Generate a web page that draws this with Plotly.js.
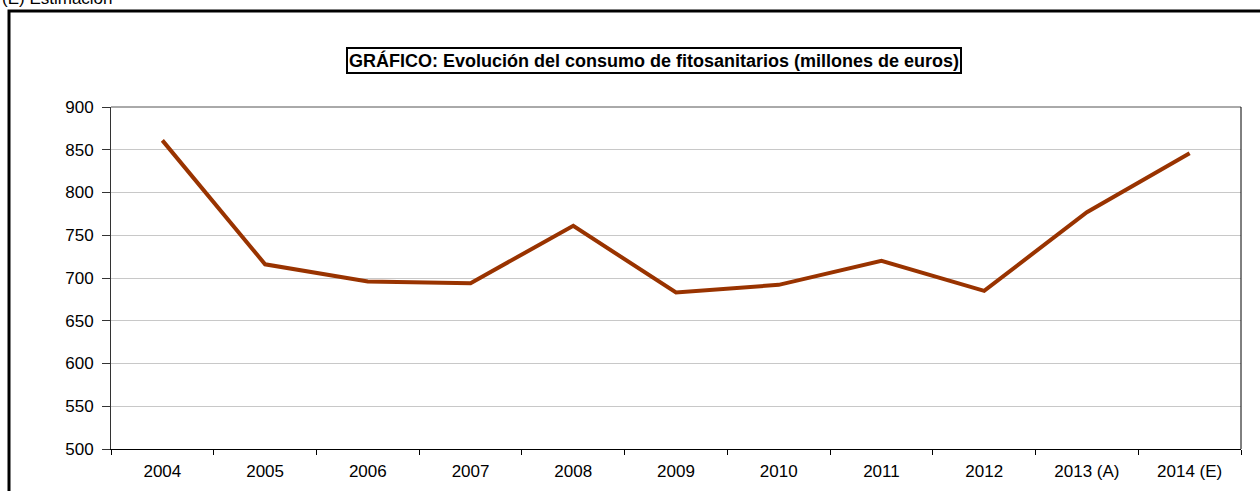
<!DOCTYPE html>
<html><head><meta charset="utf-8">
<script src="https://cdn.plot.ly/plotly-3.0.1.min.js"></script>
<style>html,body{margin:0;padding:0;background:#fff;}#chart{width:1260px;height:491px;}</style>
</head><body><div id="chart"></div>
<script>
const categories = ["2004","2005","2006","2007","2008","2009","2010","2011","2012","2013 (A)","2014 (E)"];
const consumo = [861, 716, 696, 694, 761, 683, 692, 720, 685, 777, 846];
const yTicks = [500,550,600,650,700,750,800,850,900];

const L=111, R=1241, T=107, B=449;
const W=R-L, H=B-T;
const px = x => (x-L)/W;
const py = y => (B-y)/H;

const trace = {
  x: categories, y: consumo, type:'scatter', mode:'lines',
  line:{color:'#993300', width:4}, hoverinfo:'skip'
};
const layout = {
  width:1260, height:491,
  margin:{l:L, r:1260-R, t:T, b:491-B},
  paper_bgcolor:'#fff', plot_bgcolor:'#fff',
  font:{family:'Liberation Sans, Arial, sans-serif', size:17, color:'#000'},
  showlegend:false,
  xaxis:{type:'category', tickson:'boundaries', ticks:'outside', ticklen:5, tickcolor:'#000',
         showline:true, linecolor:'#000', linewidth:1, showgrid:false, zeroline:false,
         ticklabelstandoff:7,
         range:[-0.5, categories.length-0.5], tickfont:{size:17}},
  yaxis:{range:[500,900], tickvals:yTicks, ticks:'outside', ticklen:8, tickcolor:'#333',
         showline:true, linecolor:'#333', linewidth:1, gridcolor:'#c8c8c8', gridwidth:1,
         ticklabelstandoff:5,
         zeroline:false, tickfont:{size:17}},
  shapes:[
    {type:'line', xref:'paper', yref:'paper', x0:0, x1:1, y0:1, y1:1, line:{color:'#555', width:1}},
    {type:'line', xref:'paper', yref:'paper', x0:1, x1:1, y0:0, y1:1, line:{color:'#000', width:1}},
    {type:'rect', xref:'paper', yref:'paper', x0:px(9), x1:px(1270), y0:py(11), y1:py(500), line:{color:'#000', width:3}, fillcolor:'rgba(0,0,0,0)'}
  ],
  annotations:[
    {text:'<b>GRÁFICO: Evolución del consumo de fitosanitarios (millones de euros)</b>', xref:'paper', yref:'paper',
     x:px(654), y:py(61), xanchor:'center', yanchor:'middle', showarrow:false,
     font:{size:18, color:'#000'}, bordercolor:'#000', borderwidth:2, borderpad:1, bgcolor:'#fff'},
    {text:'(E) Estimación', xref:'paper', yref:'paper', x:px(0), y:py(-2), xanchor:'left', yanchor:'middle',
     showarrow:false, font:{size:17, color:'#000'}}
  ]
};
Plotly.newPlot('chart',[trace],layout,{displayModeBar:false, staticPlot:true});
</script></body></html>
